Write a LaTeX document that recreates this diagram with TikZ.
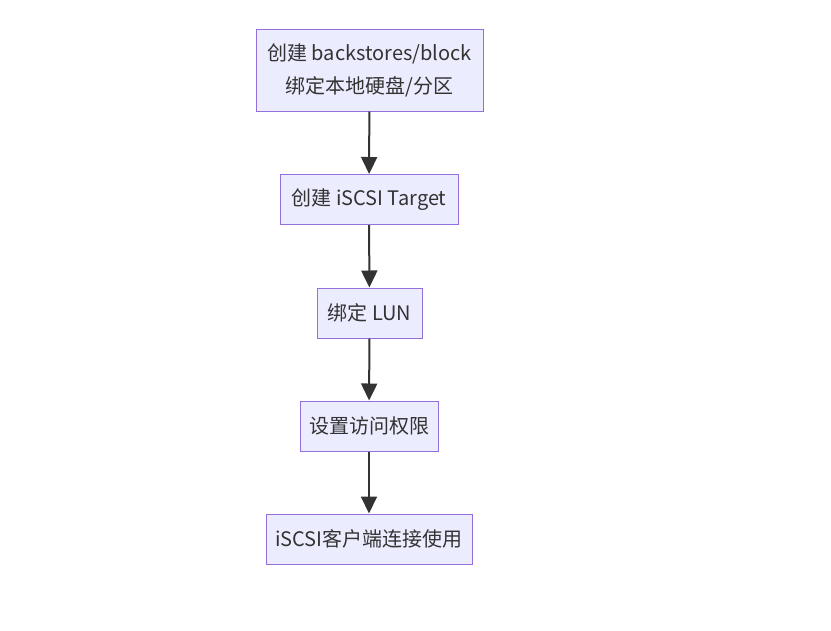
\documentclass[tikz,border=0pt]{standalone}
\usepackage{fontspec}
\setmainfont{Noto Sans CJK SC}
\usetikzlibrary{arrows.meta}

\definecolor{boxfill}{HTML}{ECECFF}
\definecolor{boxline}{HTML}{9370DB}
\definecolor{arrowline}{HTML}{333333}

\tikzset{
  stepnode/.style={draw=boxline, fill=boxfill, line width=1pt, inner sep=0pt,
    minimum height=50pt, align=center, text=arrowline,
    font=\fontsize{20}{33}\selectfont},
  flowarrow/.style={draw=arrowline, line width=2pt,
    -{Triangle[length=17pt,width=16pt]}}
}

\begin{document}
\begin{tikzpicture}[x=1pt,y=1pt]
\useasboundingbox (0,0) rectangle (831,-630);

\node[stepnode, minimum width=227pt, minimum height=82pt] (blk) at (369.5,-70) {创建 backstores/block\\绑定本地硬盘/分区};
\node[stepnode, minimum width=178pt] (tgt) at (369,-199.5) {创建 iSCSI Target};
\node[stepnode, minimum width=105pt] (lun) at (369.5,-313) {绑定 LUN};
\node[stepnode, minimum width=138pt] (acl) at (369,-426) {设置访问权限};
\node[stepnode, minimum width=206pt] (cli) at (369,-539) {iSCSI客户端连接使用};

\draw[flowarrow] (blk) -- (tgt);
\draw[flowarrow] (tgt) -- (lun);
\draw[flowarrow] (lun) -- (acl);
\draw[flowarrow] (acl) -- (cli);
\end{tikzpicture}
\end{document}
